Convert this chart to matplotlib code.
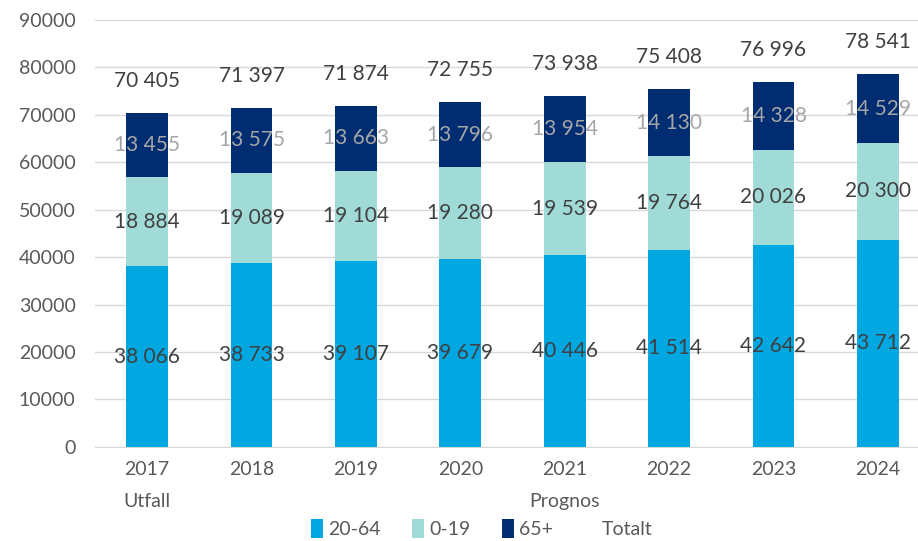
import matplotlib.pyplot as plt
import numpy as np

plt.rcParams['font.family'] = ['Lato', 'DejaVu Sans']

years = ['2017\nUtfall', '2018', '2019', '2020', '2021\nPrognos', '2022', '2023', '2024']
age_20_64 = [38066, 38733, 39107, 39679, 40446, 41514, 42642, 43712]
age_0_19 = [18884, 19089, 19104, 19280, 19539, 19764, 20026, 20300]
age_65 = [13455, 13575, 13663, 13796, 13954, 14130, 14328, 14529]
totals = [70405, 71397, 71874, 72755, 73938, 75408, 76996, 78541]

def fmt(v):
    return f"{v:,}".replace(",", " ")

fig = plt.figure(figsize=(9.18, 5.41), dpi=100)
ax = fig.add_axes([0.1035, 0.174, 0.8965, 0.789])

x = np.arange(len(years))
w = 0.4
b1 = ax.bar(x, age_20_64, w, color='#00a7e1', label='20-64', zorder=3)
b2 = ax.bar(x, age_0_19, w, bottom=age_20_64, color='#a1dbd8', label='0-19', zorder=3)
bottom3 = np.array(age_20_64) + np.array(age_0_19)
b3 = ax.bar(x, age_65, w, bottom=bottom3, color='#002d72', label='65+', zorder=3)
b4 = ax.bar(x, [0] * len(x), w, bottom=totals, color='none', label='Totalt')

ax.bar_label(b1, labels=[fmt(v) for v in age_20_64], label_type='center', color='#404040', fontsize=15, zorder=4)
ax.bar_label(b2, labels=[fmt(v) for v in age_0_19], label_type='center', color='#404040', fontsize=15, zorder=4)
ax.bar_label(b3, labels=[fmt(v) for v in age_65], label_type='center', color='#a6a6a6', fontsize=15, zorder=4)
for xi, t in zip(x, totals):
    ax.annotate(fmt(t), (xi, t), xytext=(0, 23), textcoords='offset points',
                ha='center', va='center', color='#404040', fontsize=15)

ax.set_ylim(0, 90000)
ax.set_yticks(range(0, 90001, 10000))
ax.set_xlim(-0.5, 7.385)
ax.set_xticks(x)
ax.set_xticklabels(years, linespacing=2.1)
ax.tick_params(axis='both', length=0, labelsize=14, colors='#595959')
ax.tick_params(axis='x', pad=10)
ax.tick_params(axis='y', pad=14)
ax.grid(axis='y', color='#d9d9d9', linewidth=1, zorder=0)
for s in ['top', 'right', 'left']:
    ax.spines[s].set_visible(False)
ax.spines['bottom'].set_color('#d9d9d9')

leg = ax.legend(loc='lower center', bbox_to_anchor=(0.47, -0.255), ncol=4, frameon=False,
                fontsize=14, handlelength=0.6, handleheight=1.1, handletextpad=0.3,
                columnspacing=1.6, labelcolor='#595959')

fig.savefig('out.png', dpi=100)
